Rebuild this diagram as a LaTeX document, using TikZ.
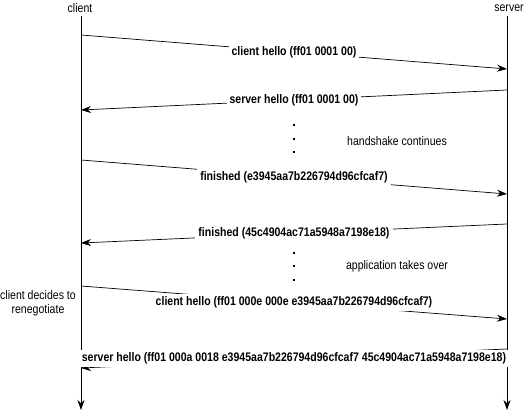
\documentclass[tikz,border=0pt]{standalone}
\usepackage{fontspec}
\setmainfont[FakeStretch=0.85]{Liberation Sans}
\usetikzlibrary{arrows.meta}
\begin{document}
\begin{tikzpicture}[x=1pt,y=-1pt,line width=0.7pt,
  font=\fontsize{12.4}{14}\selectfont,
  msg/.style={-{Stealth[length=10pt,width=7pt]}},
  lbl/.style={fill=white,inner sep=3pt,font=\fontsize{12.4}{14}\selectfont\bfseries},
  dot/.style={rectangle,fill,inner sep=0pt,minimum size=1.4pt}]
\useasboundingbox (0,0) rectangle (525,411);
% lifelines
\node (client) at (80,8) {client};
\node (server) at (509,8) {server};
\coordinate (cTop) at (81,16);
\coordinate (sTop) at (507,16);
\coordinate (cEnd) at (81,410);
\coordinate (sEnd) at (507,410);
\draw[msg] (cTop) -- (cEnd);
\draw[msg] (sTop) -- (sEnd);
% message ends
\coordinate (c1) at (81,35);  \coordinate (s1) at (507,69);
\coordinate (s2) at (507,90); \coordinate (c2) at (81,110);
\coordinate (c3) at (81,160); \coordinate (s3) at (507,194);
\coordinate (s4) at (507,224);\coordinate (c4) at (81,243);
\coordinate (c5) at (81,286); \coordinate (s5) at (507,319);
\coordinate (s6) at (507,349);\coordinate (c6) at (81,368);
% messages
\draw[msg] (c1) -- node[lbl] (m1) {client hello (ff01 0001 00)} (s1);
\draw[msg] (s2) -- node[lbl] (m2) {server hello (ff01 0001 00)} (c2);
\draw[msg] (c3) -- node[lbl] (m3) {finished (e3945aa7b226794d96cfcaf7)} (s3);
\draw[msg] (s4) -- node[lbl] (m4) {finished (45c4904ac71a5948a7198e18)} (c4);
\draw[msg] (c5) -- node[lbl] (m5) {client hello (ff01 000e 000e e3945aa7b226794d96cfcaf7)} (s5);
\draw[msg] (s6) -- node[lbl] (m6) {server hello (ff01 000a 0018 e3945aa7b226794d96cfcaf7 45c4904ac71a5948a7198e18)} (c6);
% gaps
\node[dot] (d1) at (294,125) {};
\node[dot] (d2) at (294,139) {};
\node[dot] (d3) at (294,152) {};
\node (hs) at (397,141) {handshake continues};
\node[dot] (d4) at (294,253) {};
\node[dot] (d5) at (294,266) {};
\node[dot] (d6) at (294,280) {};
\node (app) at (397,266) {application takes over};
\node[align=center] (reneg) at (38,303) {client decides to\\renegotiate};
\end{tikzpicture}
\end{document}
